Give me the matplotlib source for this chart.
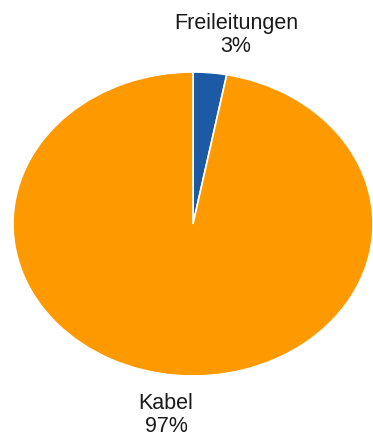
import matplotlib.pyplot as plt

labels = ["Freileitungen", "Kabel"]
values = [3, 97]
colors = ["#1c5aa6", "#ff9900"]

fig = plt.figure(figsize=(3.73, 4.37), dpi=100)
# pie spans roughly x 13..373 px, y 72..376 px (stretched ellipse)
ax = fig.add_axes([13 / 373, (437 - 376) / 437, 360 / 373, 304 / 437])
ax.pie(values, colors=colors, startangle=90, counterclock=False,
       wedgeprops=dict(edgecolor="white", linewidth=1.2))
ax.set_aspect("auto")
ax.set_xlim(-1, 1)
ax.set_ylim(-1, 1)
ax.axis("off")

# labels with percentages, placed like the original
def px(x, y):
    return x / 373, 1 - y / 437

fs = 15.5
x, y = px(236, 35)
fig.text(x, y, f"{labels[0]}\n{values[0]}%", ha="center", va="center",
         fontsize=fs, family="Liberation Sans", color="#1a1a1a",
         linespacing=1.15)
x, y = px(166, 415)
fig.text(x, y, f"{labels[1]}\n{values[1]}%", ha="center", va="center",
         fontsize=fs, family="Liberation Sans", color="#1a1a1a",
         linespacing=1.15)

fig.savefig("out.png", dpi=100)
